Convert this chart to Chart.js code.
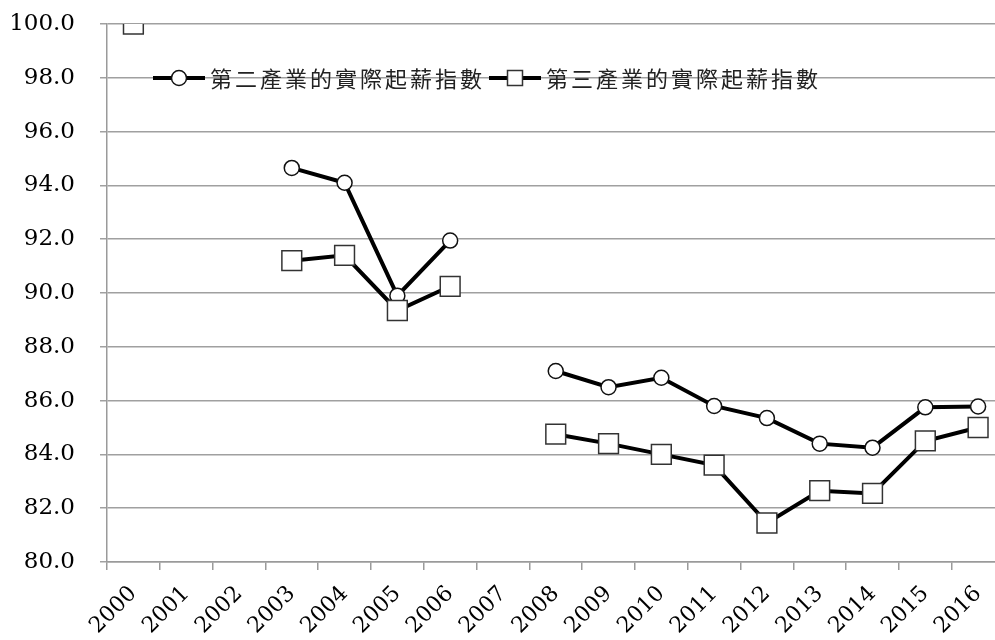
<!DOCTYPE html>
<html>
<head>
<meta charset="utf-8">
<script src="https://cdn.jsdelivr.net/npm/chart.js@4.4.1/dist/chart.umd.min.js"></script>
<style>
  html, body { margin: 0; padding: 0; background: #fff; overflow: hidden; }
  #wrap { width: 995px; height: 640px; overflow: hidden; }
</style>
</head>
<body>
<div id="wrap"><canvas id="chart" width="1020" height="640"></canvas></div>
<script>
// Données du graphique
const years = ['2000', '2001', '2002', '2003', '2004', '2005', '2006', '2007', '2008',
  '2009', '2010', '2011', '2012', '2013', '2014', '2015', '2016'];
const secondaryIndex = [100.0, null, null, 94.65, 94.1, 89.9, 91.95, null, 87.1,
  86.5, 86.85, 85.8, 85.35, 84.4, 84.25, 85.75, 85.78];
const tertiaryIndex = [100.0, null, null, 91.2, 91.4, 89.35, 90.25, null, 84.75,
  84.4, 84.0, 83.6, 81.45, 82.65, 82.55, 84.5, 85.0];
const seriesNames = ['第二產業的實際起薪指數', '第三產業的實際起薪指數'];
const yTicks = [80, 82, 84, 86, 88, 90, 92, 94, 96, 98, 100];

const serif = '"DejaVu Serif", serif';
const cjk = '"Noto Sans CJK TC", "Noto Sans CJK SC", sans-serif';

// Légende dessinée dans la zone du graphique
const innerLegend = {
  id: 'innerLegend',
  afterDraw(chart) {
    const c = chart.ctx;
    const y = 78;
    let x = 153;
    seriesNames.forEach((name, i) => {
      const ds = chart.data.datasets[i];
      c.save();
      c.strokeStyle = '#000';
      c.lineWidth = 4;
      c.beginPath();
      c.moveTo(x, y);
      c.lineTo(x + 52, y);
      c.stroke();
      c.fillStyle = '#fff';
      c.strokeStyle = ds.pointBorderColor;
      c.lineWidth = 1.5;
      c.beginPath();
      if (ds.pointStyle === 'rect') {
        c.rect(x + 26 - 7.5, y - 7.5, 15, 15);
      } else {
        c.arc(x + 26, y, 7.5, 0, Math.PI * 2);
      }
      c.fill();
      c.stroke();
      c.font = '22px ' + cjk;
      c.letterSpacing = '3px';
      c.fillStyle = '#222';
      c.textBaseline = 'middle';
      c.textAlign = 'left';
      c.fillText(name, x + 57, y + 1);
      const w = c.measureText(name).width;
      c.restore();
      x = x + 57 + w + 4;
    });
  }
};

// Supprimer les marges automatiques des axes
function noPad(s) {
  s.paddingTop = 0;
  s.paddingBottom = 0;
  s.paddingLeft = 0;
  s.paddingRight = 0;
}

const ctx = document.getElementById('chart').getContext('2d');
new Chart(ctx, {
  type: 'line',
  data: {
    labels: years,
    datasets: [{
      label: seriesNames[0],
      data: secondaryIndex,
      order: 1,
      borderColor: '#000',
      borderWidth: 4,
      pointStyle: 'circle',
      pointRadius: 7.5,
      pointBackgroundColor: '#fff',
      pointBorderColor: '#111',
      pointBorderWidth: 1.5,
      spanGaps: false,
      tension: 0,
    }, {
      label: seriesNames[1],
      data: tertiaryIndex,
      order: 0,
      borderColor: '#000',
      borderWidth: 4,
      pointStyle: 'rect',
      pointRadius: 14,
      pointBackgroundColor: '#fff',
      pointBorderColor: '#333',
      pointBorderWidth: 1.5,
      spanGaps: false,
      tension: 0,
    }],
  },
  options: {
    responsive: false,
    animation: false,
    layout: { padding: { top: 24, right: 0, left: 0, bottom: 0 } },
    plugins: {
      legend: { display: false },
      tooltip: { enabled: false },
    },
    scales: {
      x: {
        offset: true,
        afterFit: s => { s.height = 78; noPad(s); },
        grid: {
          offset: true,
          drawOnChartArea: false,
          drawTicks: true,
          tickLength: 8,
          color: '#9a9a9a',
          lineWidth: 1.5,
        },
        border: { color: '#9a9a9a', width: 1.5 },
        ticks: {
          autoSkip: false,
          maxRotation: 45,
          minRotation: 45,
          padding: 11,
          color: '#000',
          font: { family: serif, size: 22 },
        },
      },
      y: {
        min: 80,
        max: 100,
        afterFit: s => { s.width = 107; noPad(s); },
        afterBuildTicks: s => { s.ticks = yTicks.map(v => ({ value: v })); },
        grid: {
          color: '#a0a0a0',
          lineWidth: 1.5,
          tickLength: 7,
        },
        border: { color: '#9a9a9a', width: 1.5 },
        ticks: {
          padding: 25,
          color: '#000',
          font: { family: serif, size: 23 },
          callback: v => v.toFixed(1),
        },
      },
    },
  },
  plugins: [innerLegend],
});
</script>
</body>
</html>
